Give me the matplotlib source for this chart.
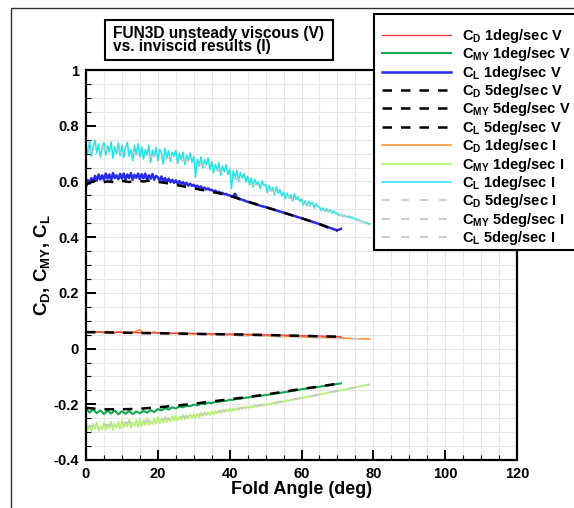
import numpy as np
import matplotlib
matplotlib.use("Agg")
import matplotlib.pyplot as plt
from matplotlib.lines import Line2D
from matplotlib.patches import Rectangle

plt.rcParams['font.family'] = ['Liberation Sans', 'DejaVu Sans']
plt.rcParams['font.weight'] = 'bold'
plt.rcParams['mathtext.fontset'] = 'custom'
plt.rcParams['mathtext.rm'] = 'Liberation Sans:bold'
plt.rcParams['mathtext.it'] = 'Liberation Sans:bold'
plt.rcParams['mathtext.bf'] = 'Liberation Sans:bold'
plt.rcParams['mathtext.sf'] = 'Liberation Sans:bold'

# ---- data ----
# 1 deg/sec viscous (V)
fold_v1 = np.arange(0, 71.5, 0.5)
cl_v1 = [0.580, 0.605, 0.592, 0.612, 0.598, 0.620, 0.603, 0.625, 0.607, 0.622,
         0.605, 0.628, 0.610, 0.625, 0.604, 0.630, 0.612, 0.622, 0.608, 0.627,
         0.610, 0.628, 0.607, 0.625, 0.612, 0.630, 0.606, 0.624, 0.613, 0.628,
         0.608, 0.626, 0.611, 0.628, 0.605, 0.622, 0.610, 0.627, 0.606, 0.620,
         0.615, 0.603, 0.618, 0.600, 0.612, 0.598, 0.610, 0.597, 0.606, 0.595,
         0.604, 0.593, 0.601, 0.590, 0.598, 0.588, 0.595, 0.585, 0.592, 0.584,
         0.588, 0.580, 0.585, 0.577, 0.582, 0.574, 0.578, 0.571, 0.575, 0.569,
         0.570, 0.565, 0.567, 0.561, 0.563, 0.558, 0.559, 0.554, 0.555, 0.551,
         0.550, 0.546, 0.547, 0.556, 0.543, 0.538, 0.536, 0.534, 0.532, 0.529,
         0.527, 0.525, 0.523, 0.521, 0.519, 0.517, 0.515, 0.513, 0.511, 0.509,
         0.508, 0.506, 0.504, 0.502, 0.500, 0.498, 0.496, 0.494, 0.492, 0.490,
         0.488, 0.486, 0.484, 0.482, 0.480, 0.478, 0.476, 0.474, 0.472, 0.470,
         0.468, 0.466, 0.464, 0.462, 0.460, 0.458, 0.455, 0.453, 0.451, 0.449,
         0.447, 0.445, 0.442, 0.440, 0.437, 0.435, 0.433, 0.431, 0.428, 0.426,
         0.425, 0.427, 0.430]

fold_cmy_v1 = np.arange(0, 72, 1.0)
cmy_v1 = [-0.215, -0.230, -0.218, -0.232, -0.222, -0.235, -0.224, -0.233, -0.222, -0.236,
          -0.225, -0.234, -0.224, -0.235, -0.226, -0.232, -0.224, -0.230, -0.221, -0.228,
          -0.217, -0.222, -0.214, -0.219, -0.211, -0.215, -0.208, -0.211, -0.205, -0.207,
          -0.201, -0.204, -0.198, -0.200, -0.194, -0.196, -0.191, -0.192, -0.187, -0.188,
          -0.184, -0.184, -0.180, -0.180, -0.177, -0.176, -0.173, -0.172, -0.170, -0.169,
          -0.167, -0.165, -0.163, -0.161, -0.159, -0.157, -0.155, -0.153, -0.151, -0.149,
          -0.146, -0.144, -0.142, -0.141, -0.139, -0.137, -0.135, -0.133, -0.131, -0.129,
          -0.127, -0.125]

fold_cd_v1 = [0, 5, 10, 15, 20, 25, 30, 35, 40, 45, 50, 55, 60, 65, 70, 71]
cd_v1 = [0.060, 0.059, 0.058, 0.057, 0.056, 0.055, 0.054, 0.053, 0.052, 0.051,
         0.049, 0.048, 0.046, 0.045, 0.043, 0.042]

# 5 deg/sec viscous (V)
fold_v5 = [0, 5, 10, 15, 20, 25, 30, 35, 40, 45, 50, 55, 60, 65, 70]
cd_v5 = [0.059, 0.058, 0.057, 0.056, 0.055, 0.054, 0.053, 0.052, 0.051, 0.050,
         0.049, 0.047, 0.046, 0.044, 0.043]
cmy_v5 = [-0.213, -0.218, -0.218, -0.216, -0.211, -0.205, -0.198, -0.190, -0.182, -0.174,
          -0.165, -0.155, -0.145, -0.136, -0.126]
fold_cl_v5 = np.arange(0, 71, 2.0)
cl_v5 = [0.590, 0.600, 0.595, 0.600, 0.597, 0.602, 0.598, 0.603, 0.600, 0.603,
         0.598, 0.595, 0.590, 0.585, 0.580, 0.575, 0.570, 0.566, 0.560, 0.555,
         0.548, 0.540, 0.532, 0.524, 0.516, 0.508, 0.500, 0.492, 0.484, 0.476,
         0.468, 0.459, 0.451, 0.442, 0.432, 0.422]

# 1 deg/sec inviscid (I)
fold_i1 = np.arange(0, 79.5, 0.5)
cl_i1 = [0.732, 0.700, 0.745, 0.690, 0.725, 0.748, 0.702, 0.735, 0.688, 0.720,
         0.740, 0.695, 0.728, 0.705, 0.742, 0.683, 0.725, 0.700, 0.738, 0.692,
         0.730, 0.685, 0.722, 0.740, 0.690, 0.715, 0.675, 0.728, 0.700, 0.735,
         0.688, 0.725, 0.680, 0.715, 0.695, 0.730, 0.668, 0.712, 0.690, 0.722,
         0.675, 0.715, 0.700, 0.662, 0.720, 0.685, 0.710, 0.672, 0.705, 0.690,
         0.712, 0.665, 0.700, 0.678, 0.705, 0.660, 0.695, 0.672, 0.702, 0.668,
         0.690, 0.615, 0.680, 0.655, 0.688, 0.648, 0.678, 0.660, 0.685, 0.642,
         0.670, 0.630, 0.662, 0.640, 0.668, 0.622, 0.655, 0.635, 0.660, 0.625,
         0.645, 0.575, 0.638, 0.610, 0.640, 0.600, 0.632, 0.612, 0.628, 0.598,
         0.618, 0.588, 0.612, 0.580, 0.608, 0.590, 0.598, 0.575, 0.602, 0.585,
         0.590, 0.560, 0.585, 0.565, 0.578, 0.552, 0.580, 0.558, 0.570, 0.548,
         0.562, 0.538, 0.558, 0.540, 0.552, 0.530, 0.555, 0.535, 0.545, 0.528,
         0.536, 0.515, 0.530, 0.512, 0.528, 0.518, 0.525, 0.505, 0.520, 0.510,
         0.508, 0.495, 0.505, 0.492, 0.502, 0.490, 0.498, 0.486, 0.494, 0.484,
         0.486, 0.477, 0.482, 0.474, 0.479, 0.471, 0.476, 0.469, 0.473, 0.466,
         0.468, 0.460, 0.463, 0.456, 0.458, 0.452, 0.453, 0.448, 0.447]
cmy_i1 = [-0.268, -0.292, -0.275, -0.296, -0.270, -0.288, -0.265, -0.295, -0.278, -0.290,
          -0.266, -0.291, -0.272, -0.286, -0.262, -0.293, -0.270, -0.284, -0.264, -0.288,
          -0.258, -0.283, -0.262, -0.280, -0.255, -0.284, -0.266, -0.278, -0.257, -0.282,
          -0.254, -0.278, -0.259, -0.275, -0.250, -0.274, -0.262, -0.271, -0.252, -0.270,
          -0.246, -0.268, -0.250, -0.266, -0.245, -0.264, -0.250, -0.262, -0.242, -0.260,
          -0.240, -0.258, -0.244, -0.255, -0.238, -0.254, -0.242, -0.251, -0.236, -0.249,
          -0.236, -0.248, -0.233, -0.246, -0.231, -0.243, -0.229, -0.240, -0.228, -0.238,
          -0.226, -0.236, -0.224, -0.233, -0.222, -0.231, -0.220, -0.228, -0.218, -0.226,
          -0.216, -0.225, -0.215, -0.222, -0.213, -0.220, -0.211, -0.218, -0.209, -0.215,
          -0.208, -0.213, -0.206, -0.211, -0.204, -0.209, -0.202, -0.207, -0.200, -0.205,
          -0.199, -0.203, -0.197, -0.201, -0.194, -0.198, -0.192, -0.196, -0.190, -0.193,
          -0.188, -0.191, -0.185, -0.188, -0.183, -0.186, -0.180, -0.183, -0.178, -0.180,
          -0.176, -0.178, -0.174, -0.175, -0.171, -0.173, -0.169, -0.170, -0.166, -0.167,
          -0.164, -0.165, -0.161, -0.162, -0.159, -0.160, -0.156, -0.157, -0.154, -0.154,
          -0.152, -0.152, -0.149, -0.149, -0.147, -0.146, -0.144, -0.144, -0.141, -0.141,
          -0.139, -0.138, -0.136, -0.135, -0.134, -0.132, -0.131, -0.129, -0.128]
fold_cd_i1 = np.arange(0, 80, 1.0)
cd_i1 = [0.062, 0.057, 0.063, 0.058, 0.061, 0.056, 0.062, 0.059, 0.055, 0.061,
         0.057, 0.060, 0.055, 0.059, 0.062, 0.068, 0.054, 0.059, 0.056, 0.060,
         0.055, 0.058, 0.054, 0.057, 0.053, 0.056, 0.052, 0.055, 0.053, 0.054,
         0.051, 0.054, 0.052, 0.050, 0.053, 0.049, 0.052, 0.050, 0.051, 0.049,
         0.050, 0.048, 0.050, 0.047, 0.049, 0.046, 0.048, 0.046, 0.047, 0.045,
         0.047, 0.045, 0.046, 0.044, 0.045, 0.043, 0.044, 0.043, 0.043, 0.042,
         0.043, 0.041, 0.042, 0.041, 0.041, 0.040, 0.040, 0.039, 0.039, 0.039,
         0.038, 0.038, 0.037, 0.037, 0.036, 0.036, 0.035, 0.035, 0.034, 0.034]

# 5 deg/sec inviscid (I)
fold_i5 = [0, 5, 10, 15, 20, 25, 30, 35, 40, 45, 50, 55, 60, 65, 70, 75, 79]
cd_i5 = [0.059, 0.058, 0.056, 0.055, 0.054, 0.052, 0.050, 0.049, 0.047, 0.045,
         0.044, 0.042, 0.040, 0.038, 0.037, 0.035, 0.034]
cmy_i5 = [-0.280, -0.275, -0.268, -0.262, -0.255, -0.247, -0.240, -0.230, -0.220, -0.210,
          -0.200, -0.189, -0.177, -0.165, -0.152, -0.140, -0.129]
fold_cl_i5 = np.arange(0, 80, 2.0)
cl_i5 = [0.720, 0.705, 0.730, 0.710, 0.722, 0.700, 0.715, 0.695, 0.705, 0.688,
         0.698, 0.680, 0.690, 0.672, 0.678, 0.660, 0.662, 0.645, 0.645, 0.628,
         0.625, 0.608, 0.605, 0.590, 0.587, 0.572, 0.566, 0.552, 0.545, 0.532,
         0.525, 0.514, 0.506, 0.497, 0.490, 0.482, 0.475, 0.468, 0.460, 0.450]

labels = [r'C$_{D}$ 1deg/sec V', r'C$_{MY}$ 1deg/sec V', r'C$_{L}$ 1deg/sec V',
          r'C$_{D}$ 5deg/sec V', r'C$_{MY}$ 5deg/sec V', r'C$_{L}$ 5deg/sec V',
          r'C$_{D}$ 1deg/sec I', r'C$_{MY}$ 1deg/sec I', r'C$_{L}$ 1deg/sec I',
          r'C$_{D}$ 5deg/sec I', r'C$_{MY}$ 5deg/sec I', r'C$_{L}$ 5deg/sec I']

# ---- figure ----
W, H = 574, 508
fig = plt.figure(figsize=(W / 100, H / 100), dpi=100)
ax = fig.add_axes([86/W, 1 - 460/H, (517 - 86)/W, (460 - 70)/H])

c_red, c_green, c_blue = '#e8403c', '#10a850', '#2a2ae6'
c_orange, c_lgreen, c_cyan = '#ff8a2a', '#b4f070', '#22e6e6'
c_gray = '#c8c8c8'
dash_k = (0, (3.8, 3.6))
dash_g = (0, (4.5, 6.0))

style = {
    'cd_v1': dict(color=c_red, lw=1.0),
    'cmy_v1': dict(color=c_green, lw=1.5),
    'cl_v1': dict(color=c_blue, lw=1.8),
    'cd_v5': dict(color='black', lw=1.8, ls=dash_k),
    'cmy_v5': dict(color='black', lw=1.8, ls=dash_k),
    'cl_v5': dict(color='black', lw=1.8, ls=dash_k),
    'cd_i1': dict(color=c_orange, lw=1.1),
    'cmy_i1': dict(color=c_lgreen, lw=1.2),
    'cl_i1': dict(color=c_cyan, lw=1.1),
    'cd_i5': dict(color=c_gray, lw=1.3, ls=dash_g),
    'cmy_i5': dict(color=c_gray, lw=1.3, ls=dash_g),
    'cl_i5': dict(color=c_gray, lw=1.3, ls=dash_g),
}

ax.plot(fold_i1, cl_i1, **style['cl_i1'])
ax.plot(fold_i1, cmy_i1, **style['cmy_i1'])
ax.plot(fold_cd_i1, cd_i1, **style['cd_i1'])
ax.plot(fold_cl_i5, cl_i5, **style['cl_i5'])
ax.plot(fold_i5, cmy_i5, **style['cmy_i5'])
ax.plot(fold_i5, cd_i5, **style['cd_i5'])
ax.plot(fold_v1, cl_v1, **style['cl_v1'])
ax.plot(fold_cmy_v1, cmy_v1, **style['cmy_v1'])
ax.plot(fold_cd_v1, cd_v1, **style['cd_v1'])
ax.plot(fold_cl_v5, cl_v5, **style['cl_v5'])
ax.plot(fold_v5, cmy_v5, **style['cmy_v5'])
ax.plot(fold_v5, cd_v5, **style['cd_v5'])

ax.set_xlim(0, 120)
ax.set_ylim(-0.4, 1.0)
ax.set_xticks(np.arange(0, 121, 20))
ax.set_xticks(np.arange(0, 121, 5), minor=True)
ax.set_yticks(np.arange(-0.4, 1.01, 0.2))
ax.set_yticks(np.arange(-0.4, 1.01, 0.05), minor=True)
ax.set_yticklabels(['-0.4', '-0.2', '0', '0.2', '0.4', '0.6', '0.8', '1'])
ax.grid(True, which='both', color='#e6e6e6', lw=0.8)
ax.set_axisbelow(True)
ax.tick_params(which='both', direction='in', top=False, right=False, labelsize=10.5)
ax.tick_params(which='major', length=7, width=1.4, pad=5)
ax.tick_params(which='minor', length=3.5, width=0.8)
for s in ax.spines.values():
    s.set_linewidth(1.6)
for lab in ax.get_xticklabels() + ax.get_yticklabels():
    lab.set_fontweight('bold')

ax.set_xlabel('Fold Angle (deg)', fontsize=13, fontweight='bold', labelpad=0)
ax.set_ylabel(r'C$_{D}$, C$_{MY}$, C$_{L}$', fontsize=13.5, fontweight='bold', labelpad=1)

# outer frame
fig.add_artist(Rectangle((11/W, -0.1), 1.2, 1.1 - 8/H, transform=fig.transFigure,
                         fill=False, ec='#333333', lw=1.0))

# title box
fig.add_artist(Rectangle((105/W, 1 - 60/H), (333 - 105)/W, 40/H, transform=fig.transFigure,
                         fc='white', ec='black', lw=1.5))
fig.text(113/W, 1 - 40/H, 'FUN3D unsteady viscous (V)\nvs. inviscid results (I)',
         fontsize=11.2, fontweight='bold', ha='left', va='center', linespacing=0.9)

# legend, drawn row by row
order = ['cd_v1', 'cmy_v1', 'cl_v1', 'cd_v5', 'cmy_v5', 'cl_v5',
         'cd_i1', 'cmy_i1', 'cl_i1', 'cd_i5', 'cmy_i5', 'cl_i5']
fig.add_artist(Rectangle((374/W, 1 - 250/H), 0.5, (250 - 14)/H, transform=fig.transFigure,
                         fc='white', ec='black', lw=1.5, zorder=5))
row0, row_step = 35.0, 18.36
for i, (key, lab) in enumerate(zip(order, labels)):
    yp = row0 + i * row_step
    fig.add_artist(Line2D([382/W, 451/W], [1 - yp/H, 1 - yp/H], transform=fig.transFigure,
                          zorder=6, **style[key]))
    fig.text(462/W, 1 - (yp + 5)/H, lab, fontsize=10.5, fontweight='bold',
             ha='left', va='baseline', zorder=6)

fig.savefig('out.png', dpi=100)
